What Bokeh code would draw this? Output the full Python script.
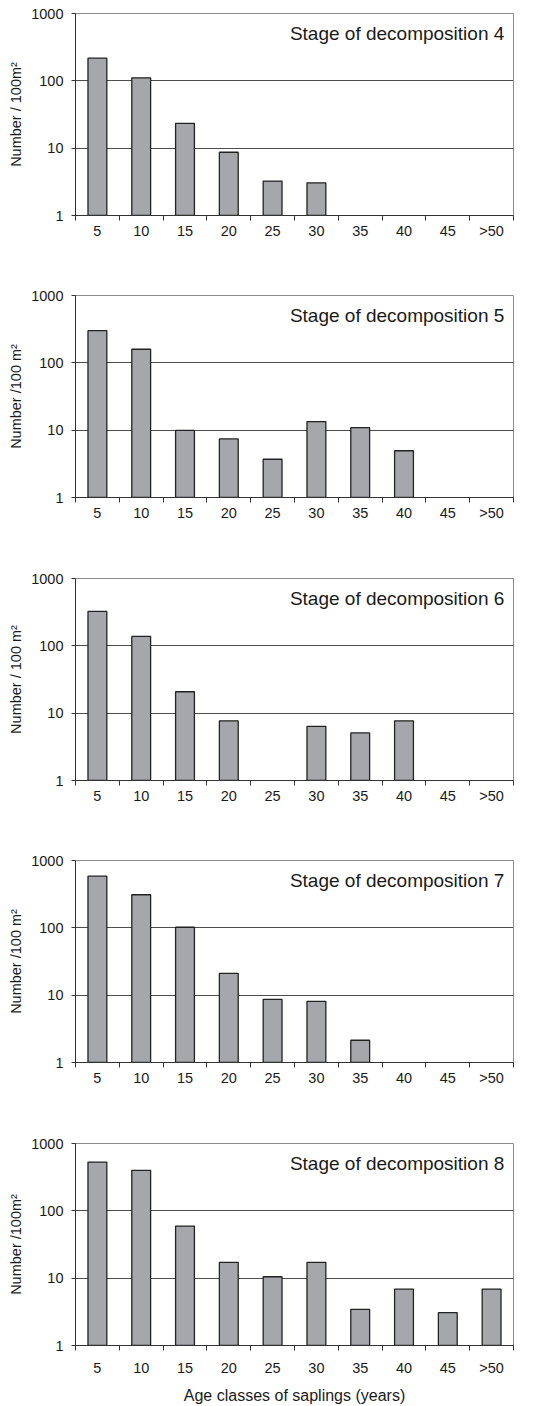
from bokeh.plotting import figure
from bokeh.layouts import column
from bokeh.models import Range1d, FixedTicker, NumeralTickFormatter, Label, ColumnDataSource
from bokeh.embed import file_html
from bokeh.resources import INLINE

# ---- data ----
categories = ["5", "10", "15", "20", "25", "30", "35", "40", "45", ">50"]
stage_4 = [217, 111, 23.4, 8.7, 3.25, 3.06, None, None, None, None]
stage_5 = [300, 159, 9.9, 7.4, 3.7, 13.4, 10.9, 4.95, None, None]
stage_6 = [324, 138, 20.8, 7.7, None, 6.37, 5.08, 7.7, None, None]
stage_7 = [586, 310, 102, 21.0, 8.66, 8.09, 2.14, None, None, None]
stage_8 = [530, 399, 59.3, 17.2, 10.5, 17.2, 3.44, 6.88, 3.07, 6.88]
panel_titles = ["Stage of decomposition 4", "Stage of decomposition 5",
                "Stage of decomposition 6", "Stage of decomposition 7",
                "Stage of decomposition 8"]
y_titles = ["Number / 100m\u00b2", "Number /100 m\u00b2", "Number / 100 m\u00b2",
            "Number /100 m\u00b2", "Number /100m\u00b2"]
y_ticks = [1, 10, 100, 1000]
x_title = "Age classes of saplings (years)"

series = [stage_4, stage_5, stage_6, stage_7, stage_8]

FONT = "Liberation Sans"
TXT = "#1a1a1a"
tops_b = [13, 10, 10, 10, 10]
bottoms = [70, 71, 70, 71, 56]

figs = []
for i, (vals, title, ytitle) in enumerate(zip(series, panel_titles, y_titles)):
    last = i == len(series) - 1
    idx = [k for k, v in enumerate(vals) if v]
    src = ColumnDataSource(dict(x=[k + 0.5 for k in idx], top=[vals[k] for k in idx]))
    p = figure(frame_width=438, frame_height=202,
               x_range=Range1d(0, len(categories)), y_range=Range1d(y_ticks[0], y_ticks[-1]),
               y_axis_type="log", output_backend="svg", toolbar_location=None,
               min_border_left=75, min_border_right=20, min_border_top=tops_b[i],
               min_border_bottom=bottoms[i], background_fill_color="white",
               border_fill_color="white")
    p.vbar(x="x", top="top", bottom=y_ticks[0], width=0.43, source=src,
           fill_color="#a6a7ab", line_color="#222222", line_width=1.3)

    p.outline_line_color = "#8c8c8c"
    p.outline_line_width = 1
    p.xgrid.visible = False
    p.ygrid.ticker = FixedTicker(ticks=y_ticks[1:-1])
    p.ygrid.grid_line_color = "#4d4d4d"
    p.ygrid.grid_line_width = 1

    # y axis
    ya = p.yaxis[0]
    ya.ticker = FixedTicker(ticks=y_ticks)
    ya.formatter = NumeralTickFormatter(format="0")
    ya.axis_line_color = "#333333"
    ya.major_tick_line_color = "#333333"
    ya.major_tick_out = 4
    ya.major_tick_in = 0
    ya.minor_tick_line_color = None
    ya.major_label_standoff = 8
    ya.major_label_text_font = FONT
    ya.major_label_text_font_size = "14.5px"
    ya.major_label_text_color = TXT
    ya.axis_label = ytitle
    ya.axis_label_text_font = FONT
    ya.axis_label_text_font_size = "14.5px"
    ya.axis_label_text_font_style = "normal"
    ya.axis_label_text_color = TXT
    ya.axis_label_standoff = 4

    # x axis: labels at category centres, ticks at category boundaries
    xa = p.xaxis[0]
    xa.ticker = FixedTicker(ticks=[k + 0.5 for k in range(len(categories))],
                            minor_ticks=list(range(len(categories) + 1)))
    xa.major_label_overrides = {k + 0.5: c for k, c in enumerate(categories)}
    xa.axis_line_color = "#333333"
    xa.major_tick_line_color = None
    xa.major_tick_out = 0
    xa.major_tick_in = 0
    xa.minor_tick_line_color = "#333333"
    xa.minor_tick_out = 5
    xa.minor_tick_in = 0
    xa.major_label_standoff = 9 if last else 2
    xa.major_label_text_font = FONT
    xa.major_label_text_font_size = "14.5px"
    xa.major_label_text_color = TXT
    if last:
        xa.axis_label = x_title
        xa.axis_label_text_font = FONT
        xa.axis_label_text_font_size = "16px"
        xa.axis_label_text_font_style = "normal"
        xa.axis_label_text_color = TXT
        xa.axis_label_standoff = 8

    p.add_layout(Label(x=9.79, y=505, text=title, text_align="right",
                       text_baseline="alphabetic", text_font=FONT,
                       text_font_size="19px", text_color=TXT))
    figs.append(p)

layout = column(*figs)
open("out.html", "w").write(file_html(layout, INLINE))
